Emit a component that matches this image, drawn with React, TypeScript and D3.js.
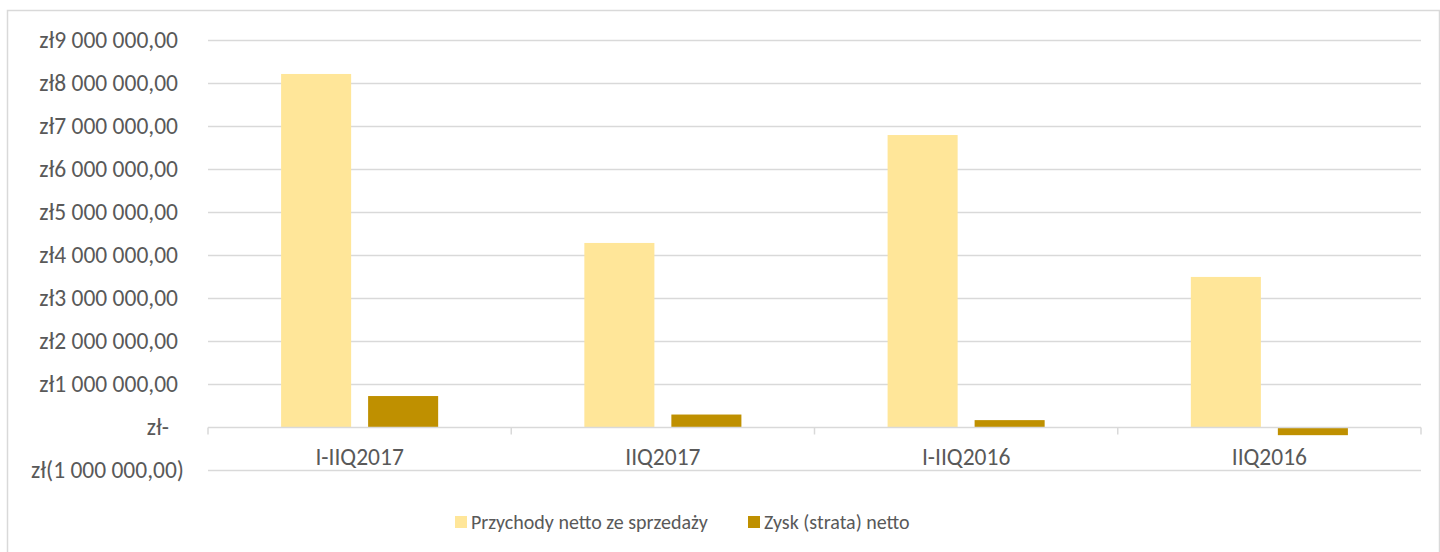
import * as d3 from "d3";
import React, { useEffect, useRef } from "react";

// Przychody vs zysk, kwartalnie
const categories = ["I-IIQ2017", "IIQ2017", "I-IIQ2016", "IIQ2016"];
const seriesNames = ["Przychody netto ze sprzedaży", "Zysk (strata) netto"];
const revenue = [8210000, 4280000, 6790000, 3490000];
const profit = [720000, 290000, 160000, -190000];
const yTicks = [-1000000, 0, 1000000, 2000000, 3000000, 4000000, 5000000, 6000000, 7000000, 8000000, 9000000];
const colors = ["#FFE699", "#BF9000"];

const W = 1440;
const H = 552;
const FONT = "Carlito, Lato, 'Liberation Sans', sans-serif";
const TXT = "#595959";

const fmt = (v: number) => {
  if (v === 0) return "zł-";
  const s = d3.format(",.2f")(Math.abs(v)).replace(/,/g, " ").replace(".", ",");
  return v < 0 ? `zł(${s})` : `zł${s}`;
};

const App: React.FC = () => {
  const ref = useRef<SVGSVGElement | null>(null);

  useEffect(() => {
    if (!ref.current) return;
    const svg = d3.select(ref.current);
    svg.selectAll("*").remove();

    const left = 208;
    const right = 1421;
    const y = d3.scaleLinear().domain([-1000000, 9000000]).range([470, 40]);

    const x0 = d3.scaleBand().domain(categories).range([left, right]).padding(0);
    const x1 = d3
      .scaleBand()
      .domain(seriesNames)
      .range([0, x0.bandwidth()])
      .paddingInner(0.195)
      .paddingOuter(0.84);

    // outer border
    svg.append("rect")
      .attr("x", 7.5).attr("y", 10.5)
      .attr("width", 1432).attr("height", 560)
      .attr("fill", "white").attr("stroke", "#D9D9D9").attr("stroke-width", 1.5);

    // gridlines
    svg.append("g")
      .selectAll("line")
      .data(yTicks.filter((t) => t !== 0))
      .enter()
      .append("line")
      .attr("x1", left).attr("x2", right)
      .attr("y1", (d) => Math.round(y(d)) + 0.5)
      .attr("y2", (d) => Math.round(y(d)) + 0.5)
      .attr("stroke", "#D9D9D9").attr("stroke-width", 1.5);

    // y labels
    svg.append("g")
      .selectAll("text")
      .data(yTicks)
      .enter()
      .append("text")
      .attr("x", (d) => (d < 0 ? 184 : d === 0 ? 169 : 178))
      .attr("y", (d) => y(d))
      .attr("dy", "0.35em")
      .attr("text-anchor", "end")
      .style("font-family", FONT)
      .style("font-size", "23.5px")
      .attr("fill", TXT)
      .text((d) => fmt(d));

    const rows = categories.map((c, i) => ({ cat: c, vals: [revenue[i], profit[i]] }));

    // bars
    const grp = svg.append("g")
      .selectAll("g")
      .data(rows)
      .enter()
      .append("g")
      .attr("transform", (d) => `translate(${x0(d.cat)},0)`);

    grp.selectAll("rect")
      .data((d) => d.vals.map((v, j) => ({ name: seriesNames[j], v, j })))
      .enter()
      .append("rect")
      .attr("x", (d) => x1(d.name)!)
      .attr("width", x1.bandwidth())
      .attr("y", (d) => y(Math.max(0, d.v)))
      .attr("height", (d) => Math.abs(y(d.v) - y(0)))
      .attr("fill", (d) => colors[d.j]);

    // zero axis with ticks
    const zy = Math.round(y(0)) + 0.5;
    svg.append("line")
      .attr("x1", left).attr("x2", right)
      .attr("y1", zy).attr("y2", zy)
      .attr("stroke", "#D9D9D9").attr("stroke-width", 1.5);
    const bounds = categories.map((c) => x0(c)!).concat([right]);
    svg.append("g")
      .selectAll("line")
      .data(bounds)
      .enter()
      .append("line")
      .attr("x1", (d) => d).attr("x2", (d) => d)
      .attr("y1", zy).attr("y2", zy + 7)
      .attr("stroke", "#D9D9D9").attr("stroke-width", 1.5);

    // category labels
    svg.append("g")
      .selectAll("text")
      .data(categories)
      .enter()
      .append("text")
      .attr("x", (d) => x0(d)! + x0.bandwidth() / 2)
      .attr("y", 457)
      .attr("dy", "0.35em")
      .attr("text-anchor", "middle")
      .style("font-family", FONT)
      .style("font-size", "23.5px")
      .attr("fill", TXT)
      .text((d) => d);

    // legend
    const legX = [455, 748];
    const leg = svg.append("g")
      .selectAll("g")
      .data(seriesNames)
      .enter()
      .append("g")
      .attr("transform", (_d, i) => `translate(${legX[i]},522)`);
    leg.append("rect")
      .attr("x", 0).attr("y", -6)
      .attr("width", 12).attr("height", 12)
      .attr("fill", (_d, i) => colors[i]);
    leg.append("text")
      .attr("x", 16).attr("y", 0)
      .attr("dy", "0.35em")
      .style("font-family", FONT)
      .style("font-size", "20px")
      .attr("fill", TXT)
      .text((d) => d);
  }, []);

  return (
    <svg
      ref={ref}
      width={W}
      height={H}
      style={{ position: "absolute", left: 0, top: 0, display: "block" }}
    ></svg>
  );
};

export default App;
